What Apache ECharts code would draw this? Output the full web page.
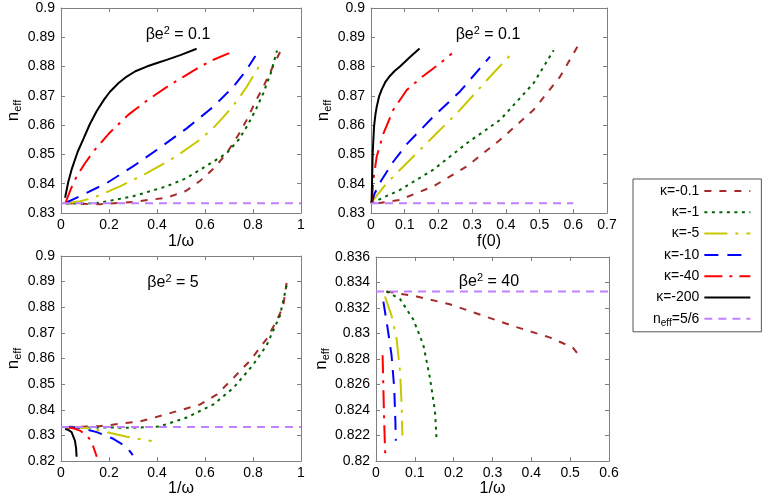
<!DOCTYPE html>
<html><head><meta charset="utf-8">
<script src="https://cdn.jsdelivr.net/npm/echarts@6/dist/echarts.min.js"></script>
<style>html,body{margin:0;padding:0;background:#fff}#c{width:767px;height:498px}</style>
</head><body><div id="c"></div>
<script>
// ---------- data ----------
const seriesNames = ['κ=-0.1','κ=-1','κ=-5','κ=-10','κ=-40','κ=-200','n_eff=5/6'];
const panelTitles = ['0.1','0.1','5','40'];
const xNames = ['1/ω','f(0)','1/ω','1/ω'];

// tick values
const tlXTicks = [0,0.2,0.4,0.6,0.8,1];
const tlYTicks = [0.83,0.84,0.85,0.86,0.87,0.88,0.89,0.9];
const trXTicks = [0,0.1,0.2,0.3,0.4,0.5,0.6,0.7];
const trYTicks = [0.83,0.84,0.85,0.86,0.87,0.88,0.89,0.9];
const blXTicks = [0,0.2,0.4,0.6,0.8,1];
const blYTicks = [0.82,0.83,0.84,0.85,0.86,0.87,0.88,0.89,0.9];
const brXTicks = [0,0.1,0.2,0.3,0.4,0.5,0.6];
const brYTicks = [0.82,0.822,0.824,0.826,0.828,0.83,0.832,0.834,0.836];

// top-left: beta e^2 = 0.1, x = 1/omega
const tlK01 = [[0.02,0.8333],[0.16,0.8330],[0.30,0.8338],[0.44,0.8352],[0.52,0.8375],[0.58,0.8410],[0.64,0.8455],[0.69,0.8504],[0.74,0.8568],[0.774,0.8618],[0.81,0.8680],[0.843,0.8731],[0.88,0.8795],[0.92,0.8862]];
const tlK1 = [[0.02,0.8333],[0.10,0.8332],[0.16,0.8335],[0.30,0.8357],[0.44,0.8391],[0.52,0.8418],[0.58,0.8448],[0.64,0.8478],[0.69,0.8504],[0.74,0.8550],[0.774,0.8595],[0.81,0.8650],[0.843,0.8709],[0.875,0.8780],[0.90,0.8855]];
const tlK5 = [[0.02,0.8333],[0.08,0.8340],[0.135,0.8352],[0.246,0.8391],[0.357,0.8436],[0.468,0.8487],[0.579,0.8550],[0.64,0.8595],[0.69,0.8640],[0.735,0.8685],[0.774,0.8731],[0.81,0.8780],[0.84,0.8820]];
const tlK10 = [[0.02,0.8335],[0.08,0.8358],[0.19,0.8402],[0.30,0.8459],[0.40,0.8516],[0.524,0.8589],[0.635,0.8663],[0.718,0.8731],[0.77,0.8785],[0.81,0.8836]];
const tlK40 = [[0.019,0.8335],[0.04,0.8380],[0.065,0.8425],[0.10,0.8470],[0.135,0.8510],[0.204,0.8575],[0.28,0.8635],[0.36,0.8685],[0.44,0.8730],[0.51,0.8765],[0.58,0.8800],[0.64,0.8825],[0.704,0.8847]];
const tlK200 = [[0.017,0.8352],[0.03,0.8405],[0.044,0.8448],[0.07,0.8510],[0.093,0.8552],[0.12,0.8603],[0.149,0.8648],[0.18,0.8688],[0.204,0.8714],[0.24,0.8744],[0.274,0.8766],[0.31,0.8784],[0.357,0.8800],[0.40,0.8812],[0.44,0.8823],[0.50,0.8840],[0.565,0.8861]];
const tlNeff = [[0,0.8333],[1,0.8333]];

// top-right: beta e^2 = 0.1, x = f(0)
const trK01 = [[0.02,0.8333],[0.086,0.8345],[0.185,0.8391],[0.284,0.8459],[0.383,0.8550],[0.482,0.8652],[0.561,0.8766],[0.621,0.8885]];
const trK1 = [[0.002,0.8334],[0.086,0.8379],[0.185,0.8448],[0.284,0.8538],[0.383,0.8618],[0.482,0.8743],[0.542,0.8856]];
const trK5 = [[0.002,0.8333],[0.007,0.8345],[0.047,0.8402],[0.116,0.8482],[0.185,0.8561],[0.264,0.8652],[0.344,0.8754],[0.413,0.8839]];
const trK10 = [[0.002,0.8333],[0.01,0.8365],[0.03,0.8410],[0.066,0.8475],[0.106,0.8535],[0.185,0.8629],[0.264,0.8715],[0.353,0.8834]];
const trK40 = [[0.002,0.8335],[0.007,0.8413],[0.017,0.8493],[0.037,0.8572],[0.066,0.8652],[0.106,0.8720],[0.155,0.8768],[0.205,0.8811],[0.24,0.8845]];
const trK200 = [[0.001,0.8333],[0.002,0.8345],[0.005,0.8504],[0.009,0.8595],[0.013,0.8635],[0.017,0.8663],[0.024,0.8698],[0.032,0.8722],[0.043,0.8748],[0.056,0.8768],[0.07,0.8785],[0.086,0.8800],[0.115,0.8832],[0.144,0.8862]];
const trNeff = [[0,0.8333],[0.6,0.8333]];

// bottom-left: beta e^2 = 5, x = 1/omega
const blK01 = [[0.02,0.8333],[0.16,0.8336],[0.33,0.8355],[0.44,0.8383],[0.58,0.8421],[0.65,0.8460],[0.718,0.8524],[0.788,0.8592],[0.857,0.8677],[0.90,0.8750],[0.926,0.8805],[0.94,0.8895]];
const blK1 = [[0.02,0.8333],[0.16,0.8331],[0.30,0.8330],[0.41,0.8335],[0.524,0.8370],[0.635,0.8421],[0.718,0.8485],[0.80,0.8575],[0.857,0.8652],[0.912,0.8767],[0.94,0.8885]];
const blK5 = [[0.02,0.8333],[0.093,0.8330],[0.16,0.8320],[0.274,0.8295],[0.378,0.8278]];
const blK10 = [[0.02,0.8333],[0.08,0.8330],[0.149,0.8313],[0.218,0.8287],[0.274,0.8255],[0.299,0.8223]];
const blK40 = [[0.02,0.8333],[0.05,0.8328],[0.079,0.8319],[0.107,0.8300],[0.125,0.8280],[0.135,0.8255],[0.149,0.8217]];
const blK200 = [[0.017,0.8325],[0.03,0.8322],[0.044,0.8313],[0.058,0.8280],[0.063,0.8250],[0.065,0.8217]];
const blNeff = [[0,0.8333],[1,0.8333]];

// bottom-right: beta e^2 = 40, x = 1/omega (no κ=-200 curve in this panel)
const brK01 = [[0.027,0.8333],[0.105,0.8329],[0.19,0.8323],[0.276,0.8314],[0.362,0.8305],[0.447,0.8297],[0.507,0.8289],[0.527,0.8281]];
const brK1 = [[0.027,0.8333],[0.062,0.8327],[0.096,0.8311],[0.122,0.8291],[0.139,0.8265],[0.152,0.8239],[0.156,0.8217]];
const brK5 = [[0.023,0.8329],[0.04,0.8314],[0.053,0.8296],[0.062,0.8270],[0.066,0.8244],[0.068,0.8220]];
const brK10 = [[0.019,0.8325],[0.029,0.8306],[0.04,0.8283],[0.047,0.8257],[0.050,0.8230],[0.051,0.8216]];
const brK40 = [[0.017,0.8283],[0.019,0.8257],[0.021,0.8231],[0.024,0.8203]];
const brK200 = [];
const brNeff = [[0,0.8333],[0.6,0.8333]];

// ---------- styles ----------
const FF = 'Liberation Sans, Arial, sans-serif';
const colors = ['#a52a2a','#006400','#c8c800','#0000ff','#ff0000','#000000','#c080ff'];
const dashes = [[7,8],[3,4.5],[23,8,3,8],[14,9],[18,7,3,7],'solid',[8,6]];
const grids = [
  {left:61, top:8, width:240, height:205},
  {left:371, top:8, width:236, height:205},
  {left:61, top:256, width:240, height:208},
  {left:376, top:257, width:233, height:207}
];
const titlePos = [[178,25],[488,25],[173,273],[489,272]];
const yNameGap = [38,38,38,43];
const xNameGap = [21,21,15,15];

const panels = [
  {x:tlXTicks, y:tlYTicks, data:[tlK01,tlK1,tlK5,tlK10,tlK40,tlK200,tlNeff]},
  {x:trXTicks, y:trYTicks, data:[trK01,trK1,trK5,trK10,trK40,trK200,trNeff]},
  {x:blXTicks, y:blYTicks, data:[blK01,blK1,blK5,blK10,blK40,blK200,blNeff]},
  {x:brXTicks, y:brYTicks, data:[brK01,brK1,brK5,brK10,brK40,brK200,brNeff]}
];

const fmt = v => String(parseFloat(v.toFixed(4)));
const step = t => parseFloat((t[1]-t[0]).toFixed(6));
const AX = '#808080';

function axis(kind, i, ticks, mirror, name, gap) {
  const a = {
    type:'value', gridIndex:i,
    position: kind==='x' ? (mirror?'top':'bottom') : (mirror?'right':'left'),
    min: ticks[0], max: ticks[ticks.length-1], interval: step(ticks),
    axisLine:{show:true, onZero:false, lineStyle:{color:AX, width:1}},
    axisTick:{show:true, inside:true, length:4, lineStyle:{color:AX, width:1}},
    axisLabel:{show:!mirror, fontSize:14, fontFamily:FF, color:'#000', margin:kind==='x'?5:6, formatter:fmt},
    splitLine:{show:false}
  };
  if (!mirror) {
    a.name = name; a.nameLocation = 'middle'; a.nameGap = gap;
    if (kind==='y') {
      a.nameRotate = 90;
      a.nameTextStyle = {fontFamily:FF, color:'#000', fontSize:16,
        rich:{n:{fontSize:17, fontFamily:FF, color:'#000'}, s:{fontSize:11, fontFamily:FF, color:'#000', padding:[9,0,0,0]}}};
    } else {
      a.nameTextStyle = {fontFamily:FF, color:'#000', fontSize:16};
    }
  }
  return a;
}

const xAxes = [], yAxes = [], series = [], titles = [];
panels.forEach((p, i) => {
  xAxes.push(axis('x', i, p.x, false, xNames[i], xNameGap[i]));
  yAxes.push(axis('y', i, p.y, false, '{n|n}{s|eff}', yNameGap[i]));
});
panels.forEach((p, i) => {
  xAxes.push(axis('x', i, p.x, true));
  yAxes.push(axis('y', i, p.y, true));
});
panels.forEach((p, i) => {
  p.data.forEach((d, k) => {
    series.push({
      type:'line', name:seriesNames[k], xAxisIndex:i, yAxisIndex:i,
      data:d, symbol:'none', showSymbol:false, smooth:false,
      color:colors[k], lineStyle:{color:colors[k], width:2, type:dashes[k]},
      z: k===6 ? 3 : 2, silent:true
    });
  });
  titles.push({
    text:'{a|βe}{s|2}{a| = ' + panelTitles[i] + '}',
    left:titlePos[i][0], top:titlePos[i][1], textAlign:'center', padding:0,
    textStyle:{fontFamily:FF, fontWeight:'normal', color:'#000', fontSize:16,
      rich:{a:{fontSize:16, fontFamily:FF, color:'#000'}, s:{fontSize:11, fontFamily:FF, color:'#000', padding:[0,0,8,0]}}}
  });
});

const chart = echarts.init(document.getElementById('c'), null, {renderer:'canvas'});
chart.setOption({
  animation:false,
  backgroundColor:'#fff',
  title:titles,
  grid:grids,
  xAxis:xAxes,
  yAxis:yAxes,
  legend:{
    data:seriesNames, orient:'vertical', align:'right',
    left:633, top:179, padding:[5,10,4,20],
    itemWidth:46, itemHeight:14, itemGap:7.3,
    borderColor:'#555', borderWidth:1, borderRadius:0,
    selectedMode:false,
    itemStyle:{opacity:0},
    lineStyle:{opacity:1},
    formatter: n => n==='n_eff=5/6' ? '{n|n}{s|eff}{n|=5/6}' : n,
    textStyle:{fontFamily:FF, fontSize:14, color:'#000',
      rich:{n:{fontSize:14, fontFamily:FF, color:'#000'}, s:{fontSize:10, fontFamily:FF, color:'#000', padding:[8,0,0,0]}}}
  },
  series:series
});
</script></body></html>
